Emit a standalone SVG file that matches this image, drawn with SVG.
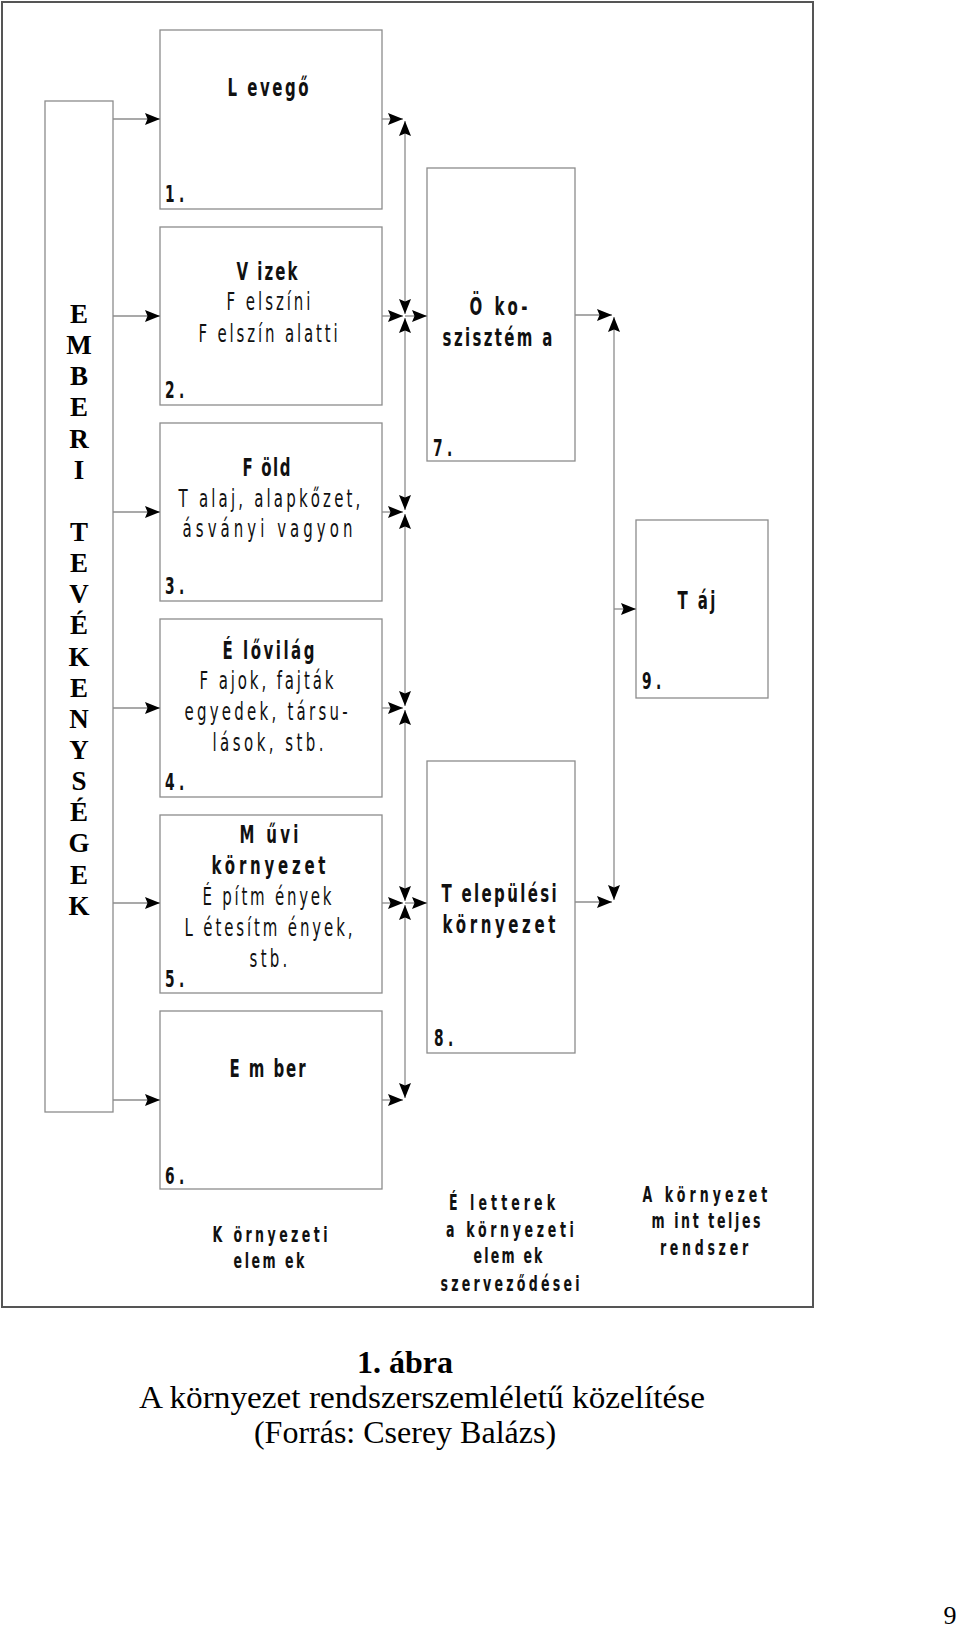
<svg xmlns="http://www.w3.org/2000/svg" width="960" height="1628" viewBox="0 0 960 1628">
<style>
.frame{fill:none;stroke:#555;stroke-width:2}
.box{fill:#fff;stroke:#8c8c8c;stroke-width:1.3}
.ln{stroke:#8c8c8c;stroke-width:1.3;fill:none}
.t{font-family:'DejaVu Sans','Liberation Sans',sans-serif;font-size:25px;text-anchor:middle;fill:#111}
.b{font-weight:bold}
.s{font-size:21px}
.n{font-family:'DejaVu Sans','Liberation Sans',sans-serif;font-size:23px;font-weight:bold;fill:#111}
.v{font-family:'Liberation Serif','Times New Roman',serif;font-size:27px;font-weight:bold;text-anchor:middle;fill:#000}
.c{font-family:'Liberation Serif','Times New Roman',serif;font-size:32px;text-anchor:middle;fill:#000}
</style>
<defs>
<marker id="ah" viewBox="0 0 15 12" refX="15" refY="6" markerWidth="15" markerHeight="12" markerUnits="userSpaceOnUse" orient="auto-start-reverse"><path d="M0,0 L15,6 L0,12 L2.5,6 z" fill="#000"/></marker>
</defs>
<rect class="frame" x="2" y="2" width="811" height="1305"/>

<g id="emberi">
<rect class="box" x="45" y="101" width="68" height="1011"/>
<text class="v" x="79" y="323">E</text>
<text class="v" x="79" y="354">M</text>
<text class="v" x="79" y="385">B</text>
<text class="v" x="79" y="416">E</text>
<text class="v" x="79" y="448">R</text>
<text class="v" x="79" y="479">I</text>
<text class="v" x="79" y="541">T</text>
<text class="v" x="79" y="572">E</text>
<text class="v" x="79" y="603">V</text>
<text class="v" x="79" y="634">É</text>
<text class="v" x="79" y="666">K</text>
<text class="v" x="79" y="697">E</text>
<text class="v" x="79" y="728">N</text>
<text class="v" x="79" y="759">Y</text>
<text class="v" x="79" y="790">S</text>
<text class="v" x="79" y="821">É</text>
<text class="v" x="79" y="852">G</text>
<text class="v" x="79" y="884">E</text>
<text class="v" x="79" y="915">K</text>
</g>

<g id="n1">
<rect class="box" x="160" y="30" width="222" height="179"/>
<text class="t b" transform="translate(268,96) scale(0.6,1)" textLength="135" lengthAdjust="spacing">L evegő</text>
<text class="n" transform="translate(165,202) scale(0.6,1)" textLength="32" lengthAdjust="spacing">1.</text>
</g>
<g id="n2">
<rect class="box" x="160" y="227" width="222" height="178"/>
<text class="t b" transform="translate(267,280) scale(0.6,1)" textLength="102" lengthAdjust="spacing">V izek</text>
<text class="t" transform="translate(268.5,310) scale(0.6,1)" textLength="140" lengthAdjust="spacing">F elszíni</text>
<text class="t" transform="translate(268,342) scale(0.6,1)" textLength="232" lengthAdjust="spacing">F elszín alatti</text>
<text class="n" transform="translate(165,398) scale(0.6,1)" textLength="32" lengthAdjust="spacing">2.</text>
</g>
<g id="n3">
<rect class="box" x="160" y="423" width="222" height="178"/>
<text class="t b" transform="translate(266.5,476) scale(0.6,1)" textLength="80" lengthAdjust="spacing">F öld</text>
<text class="t" transform="translate(269.5,507) scale(0.6,1)" textLength="303" lengthAdjust="spacing">T alaj, alapkőzet,</text>
<text class="t" transform="translate(267.5,537) scale(0.6,1)" textLength="283" lengthAdjust="spacing">ásványi vagyon</text>
<text class="n" transform="translate(165,594) scale(0.6,1)" textLength="32" lengthAdjust="spacing">3.</text>
</g>
<g id="n4">
<rect class="box" x="160" y="619" width="222" height="178"/>
<text class="t b" transform="translate(268.5,659) scale(0.6,1)" textLength="153" lengthAdjust="spacing">É lővilág</text>
<text class="t" transform="translate(266.5,689) scale(0.6,1)" textLength="223" lengthAdjust="spacing">F ajok, fajták</text>
<text class="t" transform="translate(266,720) scale(0.6,1)" textLength="272" lengthAdjust="spacing">egyedek, társu-</text>
<text class="t" transform="translate(268,751) scale(0.6,1)" textLength="185" lengthAdjust="spacing">lások, stb.</text>
<text class="n" transform="translate(165,790) scale(0.6,1)" textLength="32" lengthAdjust="spacing">4.</text>
</g>
<g id="n5">
<rect class="box" x="160" y="815" width="222" height="178"/>
<text class="t b" transform="translate(269,843) scale(0.6,1)" textLength="98" lengthAdjust="spacing">M űvi</text>
<text class="t b" transform="translate(268.5,874) scale(0.6,1)" textLength="190" lengthAdjust="spacing">környezet</text>
<text class="t" transform="translate(267,905) scale(0.6,1)" textLength="215" lengthAdjust="spacing">É pítm ények</text>
<text class="t" transform="translate(268.5,936) scale(0.6,1)" textLength="280" lengthAdjust="spacing">L étesítm ények,</text>
<text class="t" transform="translate(268.5,967) scale(0.6,1)" textLength="63" lengthAdjust="spacing">stb.</text>
<text class="n" transform="translate(165,987) scale(0.6,1)" textLength="32" lengthAdjust="spacing">5.</text>
</g>
<g id="n6">
<rect class="box" x="160" y="1011" width="222" height="178"/>
<text class="t b" transform="translate(267.5,1077) scale(0.6,1)" textLength="127" lengthAdjust="spacing">E m ber</text>
<text class="n" transform="translate(165,1184) scale(0.6,1)" textLength="32" lengthAdjust="spacing">6.</text>
</g>
<g id="n7">
<rect class="box" x="427" y="168" width="148" height="293"/>
<text class="t b" transform="translate(498.5,315) scale(0.6,1)" textLength="97" lengthAdjust="spacing">Ö ko-</text>
<text class="t b" transform="translate(497.5,346) scale(0.6,1)" textLength="183" lengthAdjust="spacing">szisztém a</text>
<text class="n" transform="translate(433,456) scale(0.6,1)" textLength="32" lengthAdjust="spacing">7.</text>
</g>
<g id="n8">
<rect class="box" x="427" y="761" width="148" height="292"/>
<text class="t b" transform="translate(499,902) scale(0.6,1)" textLength="192" lengthAdjust="spacing">T elepülési</text>
<text class="t b" transform="translate(499,933) scale(0.6,1)" textLength="188" lengthAdjust="spacing">környezet</text>
<text class="n" transform="translate(434,1046) scale(0.6,1)" textLength="32" lengthAdjust="spacing">8.</text>
</g>
<g id="n9">
<rect class="box" x="636" y="520" width="132" height="178"/>
<text class="t b" transform="translate(696.5,609) scale(0.6,1)" textLength="63" lengthAdjust="spacing">T áj</text>
<text class="n" transform="translate(642,689) scale(0.6,1)" textLength="32" lengthAdjust="spacing">9.</text>
</g>

<g id="connectors">
<line class="ln" x1="113" y1="119" x2="160" y2="119" marker-end="url(#ah)"/>
<line class="ln" x1="113" y1="316" x2="160" y2="316" marker-end="url(#ah)"/>
<line class="ln" x1="113" y1="512" x2="160" y2="512" marker-end="url(#ah)"/>
<line class="ln" x1="113" y1="708" x2="160" y2="708" marker-end="url(#ah)"/>
<line class="ln" x1="113" y1="903" x2="160" y2="903" marker-end="url(#ah)"/>
<line class="ln" x1="113" y1="1100" x2="160" y2="1100" marker-end="url(#ah)"/>
<line class="ln" x1="382" y1="119" x2="403" y2="119" marker-end="url(#ah)"/>
<line class="ln" x1="382" y1="316" x2="403" y2="316" marker-end="url(#ah)"/>
<line class="ln" x1="382" y1="512" x2="403" y2="512" marker-end="url(#ah)"/>
<line class="ln" x1="382" y1="708" x2="403" y2="708" marker-end="url(#ah)"/>
<line class="ln" x1="382" y1="903" x2="403" y2="903" marker-end="url(#ah)"/>
<line class="ln" x1="382" y1="1100" x2="403" y2="1100" marker-end="url(#ah)"/>
<line class="ln" x1="405" y1="121" x2="405" y2="314" marker-start="url(#ah)" marker-end="url(#ah)"/>
<line class="ln" x1="405" y1="318" x2="405" y2="510" marker-start="url(#ah)" marker-end="url(#ah)"/>
<line class="ln" x1="405" y1="514" x2="405" y2="706" marker-start="url(#ah)" marker-end="url(#ah)"/>
<line class="ln" x1="405" y1="710" x2="405" y2="901" marker-start="url(#ah)" marker-end="url(#ah)"/>
<line class="ln" x1="405" y1="905" x2="405" y2="1098" marker-start="url(#ah)" marker-end="url(#ah)"/>
<line class="ln" x1="405" y1="316" x2="427" y2="316" marker-end="url(#ah)"/>
<line class="ln" x1="405" y1="903" x2="427" y2="903" marker-end="url(#ah)"/>
<line class="ln" x1="575" y1="315" x2="612" y2="315" marker-end="url(#ah)"/>
<line class="ln" x1="575" y1="902" x2="612" y2="902" marker-end="url(#ah)"/>
<line class="ln" x1="614" y1="317" x2="614" y2="900" marker-start="url(#ah)" marker-end="url(#ah)"/>
<line class="ln" x1="614" y1="609" x2="636" y2="609" marker-end="url(#ah)"/>
</g>

<g id="labels">
<text class="t b s" transform="translate(270,1242) scale(0.6,1)" textLength="192" lengthAdjust="spacing">K örnyezeti</text>
<text class="t b s" transform="translate(269,1268) scale(0.6,1)" textLength="118" lengthAdjust="spacing">elem ek</text>
<text class="t b s" transform="translate(502,1210) scale(0.6,1)" textLength="177" lengthAdjust="spacing">É letterek</text>
<text class="t b s" transform="translate(510,1237) scale(0.6,1)" textLength="213" lengthAdjust="spacing">a környezeti</text>
<text class="t b s" transform="translate(508,1263) scale(0.6,1)" textLength="115" lengthAdjust="spacing">elem ek</text>
<text class="t b s" transform="translate(510,1291) scale(0.6,1)" textLength="232" lengthAdjust="spacing">szerveződései</text>
<text class="t b s" transform="translate(705,1202) scale(0.6,1)" textLength="208" lengthAdjust="spacing">A környezet</text>
<text class="t b s" transform="translate(706,1228) scale(0.6,1)" textLength="182" lengthAdjust="spacing">m int teljes</text>
<text class="t b s" transform="translate(704,1255) scale(0.6,1)" textLength="147" lengthAdjust="spacing">rendszer</text>
</g>

<g id="caption">
<text class="c" x="405" y="1373" font-weight="bold">1. ábra</text>
<text class="c" x="422" y="1408" textLength="566" lengthAdjust="spacingAndGlyphs">A környezet rendszerszemléletű közelítése</text>
<text class="c" x="405" y="1443">(Forrás: Cserey Balázs)</text>
<text x="950" y="1624" style="font-family:'Liberation Serif','Times New Roman',serif;font-size:26px;text-anchor:middle;fill:#000">9</text>
</g>
</svg>
